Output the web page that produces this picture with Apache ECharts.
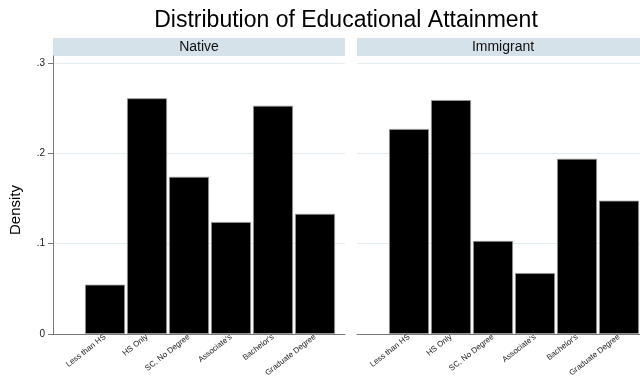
<!DOCTYPE html>
<html>
<head>
<meta charset="utf-8">
<script src="https://cdn.jsdelivr.net/npm/echarts@6/dist/echarts.min.js"></script>
<style>
  html, body { margin: 0; padding: 0; background: #fff; }
  #chart { width: 640px; height: 376px; }
</style>
</head>
<body>
<div id="chart"></div>
<script>
// Education categories, plotted at x = 1..6
const categories = ['Less than HS', 'HS Only', 'SC, No Degree', "Associate's", "Bachelor's", 'Graduate Degree'];
const categoryPositions = [1, 2, 3, 4, 5, 6];

// Density of each category by nativity
const nativeDensity = [0.0546, 0.261, 0.174, 0.124, 0.2527, 0.133];
const immigrantDensity = [0.227, 0.259, 0.103, 0.0675, 0.194, 0.1476];

// Panels and y-axis ticks
const panelNames = ['Native', 'Immigrant'];
const yTicks = [0, 0.1, 0.2, 0.3];

const FONT = "'Liberation Sans', Arial, Helvetica, sans-serif";
const X_MIN = -0.238, X_MAX = 6.714, Y_MAX = 0.3078;

function yLabel(v) {
  if (Math.abs(v) < 1e-9) return '0';
  return '.' + Math.round(v * 10);
}

function toPairs(values) {
  return categoryPositions.map((x, i) => [x, values[i]]);
}

function xAxisFor(gridIndex) {
  return {
    type: 'value', gridIndex: gridIndex, min: X_MIN, max: X_MAX,
    axisLine: { show: true, onZero: false, lineStyle: { color: '#777', width: 1 } },
    axisTick: { show: false, customValues: categoryPositions },
    splitLine: { show: false },
    axisLabel: {
      customValues: categoryPositions, hideOverlap: false,
      rotate: 38, margin: 2, fontSize: 8, color: '#222', fontFamily: FONT,
      formatter: v => categories[Math.round(v) - 1] || ''
    }
  };
}

function yAxisFor(gridIndex, withLabels) {
  return {
    type: 'value', gridIndex: gridIndex, min: 0, max: Y_MAX,
    name: withLabels ? 'Density' : '',
    nameLocation: 'middle', nameGap: 30,
    nameTextStyle: { fontSize: 15, color: '#000', fontFamily: FONT, padding: [0, 30, 0, 0] },
    axisLine: { show: withLabels, onZero: false, lineStyle: { color: '#777', width: 1 } },
    axisTick: { show: withLabels, length: 5, customValues: yTicks, lineStyle: { color: '#777' } },
    axisLabel: {
      show: withLabels, customValues: yTicks, margin: 8,
      fontSize: 10, color: '#222', fontFamily: FONT, formatter: yLabel
    },
    splitLine: { show: true, lineStyle: { color: '#e3ecf0', width: 1 } }
  };
}

function barSeries(gridIndex, values) {
  return {
    type: 'bar', xAxisIndex: gridIndex, yAxisIndex: gridIndex,
    data: toPairs(values), barWidth: 40,
    itemStyle: { color: '#000', borderColor: '#999', borderWidth: 0.8 },
    silent: true, animation: false
  };
}

const grids = [
  { left: 53, width: 292, top: 56, bottom: 42, containLabel: false, outerBoundsMode: 'none' },
  { left: 357, width: 292, top: 56, bottom: 42, containLabel: false, outerBoundsMode: 'none' }
];

// Panel header strips above each grid
const strips = grids.map((g, i) => ({
  type: 'group',
  children: [
    { type: 'rect', shape: { x: g.left, y: 38, width: g.width, height: 18 },
      style: { fill: '#d6e2e9' } },
    { type: 'text', x: g.left + g.width / 2, y: 47,
      style: { text: panelNames[i], fill: '#111', font: '14px ' + FONT,
               textAlign: 'center', textVerticalAlign: 'middle' } }
  ]
}));

const chart = echarts.init(document.getElementById('chart'), null, { renderer: 'canvas' });
chart.setOption({
  backgroundColor: '#fff',
  animation: false,
  title: {
    text: 'Distribution of Educational Attainment',
    left: 341, top: 4, textAlign: 'center',
    textStyle: { fontSize: 23, fontWeight: 'normal', color: '#000', fontFamily: FONT }
  },
  grid: grids,
  xAxis: [xAxisFor(0), xAxisFor(1)],
  yAxis: [yAxisFor(0, true), yAxisFor(1, false)],
  series: [barSeries(0, nativeDensity), barSeries(1, immigrantDensity)],
  graphic: strips
});
</script>
</body>
</html>
